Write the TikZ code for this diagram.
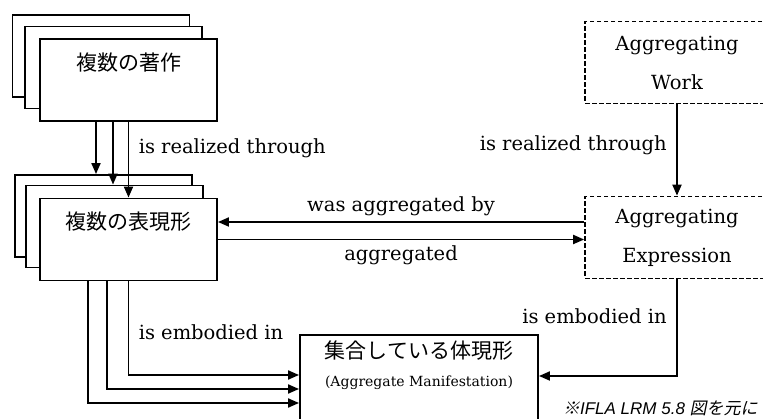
\documentclass[tikz,border=0pt]{standalone}
\usepackage{fontspec}
\setmainfont{DejaVu Serif}
\newfontfamily\jp{Noto Sans CJK JP}
\newfontfamily\jpnote{Noto Sans CJK JP}[FakeSlant=0.2]
\newfontfamily\latnote{Liberation Sans}
\usetikzlibrary{arrows.meta}

\begin{document}
\begin{tikzpicture}[x=1pt, y=-1pt, ->, >={Triangle[length=11pt,width=9pt]},
      line width=1.9pt,
      every node/.append style={font=\fontsize{19.5}{23}\selectfont}]
    \tikzstyle{entity} = [draw=black, fill=white, minimum width=177pt, minimum height=82pt, inner sep=0pt]
    \tikzstyle{aggr} = [entity, dash pattern=on 4.5pt off 2.5pt, line width=1.7pt, minimum width=184pt, align=center, font=\fontsize{19.5}{39}\selectfont]
    \tikzstyle{title} = [anchor=center, yshift=-24pt, font=\jp\fontsize{21}{25}\selectfont]
    \useasboundingbox (0,0) rectangle (763,419);
    \node (work1) [entity] at (101,56) {};
    \node (work2) [entity] at (113.5,67.5) {};
    \node (work3) [entity, label={[title]north:複数の著作}] at (128.5,80) {};
    \node (expr1) [entity] at (103.5,216) {};
    \node (expr2) [entity] at (114.5,226.5) {};
    \node (expr3) [entity, label={[title]north:複数の表現形}] at (128.5,239.5) {};
    \node (aggWork) [aggr] at (677,62.5) {Aggregating\\Work};
    \node (aggExpr) [aggr] at (677,237.5) {Aggregating\\Expression};
    \node (aggMan) [entity, minimum width=238pt, minimum height=108pt,
      label={[anchor=north, yshift=-2pt, align=center, font=\fontsize{21}{28}\selectfont]north:{\jp 集合している体現形}\\{\fontsize{14}{16}\selectfont (Aggregate Manifestation)}}] at (419,389) {};
    \draw ([xshift=-32.5pt]work3.south) -- ([xshift=-32.5pt]work3.south |- expr1.north);
    \draw ([xshift=-15.5pt]work3.south) -- ([xshift=-15.5pt]work3.south |- expr2.north);
    \draw (work3.south) -- (expr3.north) node[pos=0.35, right=6pt] {is realized through};
    \draw (aggWork.south) -- (aggExpr.north) node[pos=0.45, left=6pt] {is realized through};
    \draw ([yshift=15.5pt]aggExpr.west) -- ([yshift=15.5pt]aggExpr.west -| expr3.east) node[midway, above=2pt] {was aggregated by};
    \draw (expr3.east) -- (expr3.east -| aggExpr.west) node[midway, below=2pt] {aggregated};
    \draw (expr3.south) |- ([yshift=14pt]aggMan.west) node[pos=0.27, right=6pt] {is embodied in};
    \draw ([xshift=-21.5pt]expr3.south) |- (aggMan.west);
    \draw ([xshift=-40.5pt]expr3.south) |- ([yshift=-14pt]aggMan.west);
    \draw (aggExpr.south) |- ([yshift=13pt]aggMan.east) node[pos=0.19, left=6pt] {is embodied in};
    \node (note) [anchor=east, font=\fontsize{17}{20}\selectfont] at (762,408) {{\jpnote ※}{\latnote\itshape IFLA LRM 5.8 }{\jpnote 図を元に}};
\end{tikzpicture}
\end{document}
